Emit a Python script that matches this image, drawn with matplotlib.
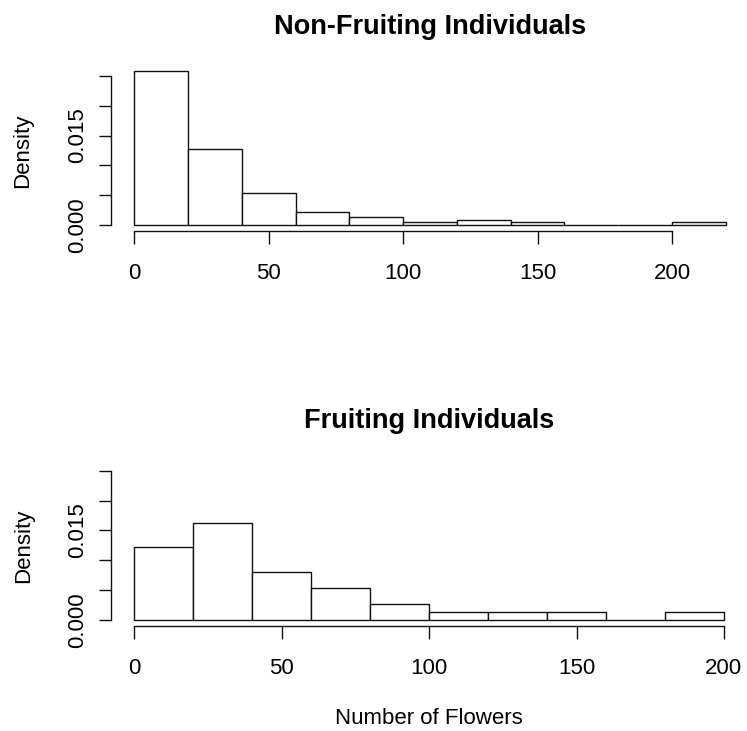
import matplotlib
matplotlib.use("Agg")
import matplotlib.pyplot as plt

plt.rcParams['font.family'] = ['Liberation Sans', 'DejaVu Sans']

# histogram bins (number of flowers) and densities
nonfruit_breaks = [0, 20, 40, 60, 80, 100, 120, 140, 160, 180, 200, 220]
nonfruit_density = [0.0258, 0.0127, 0.0053, 0.0022, 0.0013, 0.00044,
                    0.00088, 0.00044, 0.0, 0.0, 0.00044]

fruit_breaks = [0, 20, 40, 60, 80, 100, 120, 140, 160, 180, 200]
fruit_density = [0.0122, 0.0162, 0.0081, 0.0054, 0.0027, 0.00135,
                 0.00135, 0.00135, 0.0, 0.00135]

x_ticks = [0, 50, 100, 150, 200]
y_ticks = [0.0, 0.005, 0.010, 0.015, 0.020, 0.025]
y_labels = ["0.000", "", "", "0.015", "", ""]

W, H = 747, 731
fig = plt.figure(figsize=(W / 100, H / 100), dpi=100)

def hist_panel(rect, breaks, dens, title, xlabel=None):
    ax = fig.add_axes(rect)
    lefts = breaks[:-1]
    widths = [b - a for a, b in zip(breaks[:-1], breaks[1:])]
    ax.bar(lefts, dens, width=widths, align='edge', color='white',
           edgecolor='#111111', linewidth=1.0)
    span = breaks[-1] - breaks[0]
    ax.set_xlim(breaks[0] - 0.04 * span, breaks[-1] + 0.04 * span)
    ax.set_ylim(-0.001, 0.026)
    for s in ['top', 'right']:
        ax.spines[s].set_visible(False)
    ax.spines['left'].set_bounds(0, 0.025)
    ax.spines['bottom'].set_bounds(0, 200)
    for s in ['left', 'bottom']:
        ax.spines[s].set_linewidth(1.0)
        ax.spines[s].set_color('#111111')
    ax.set_xticks(x_ticks)
    ax.set_xticklabels([str(t) for t in x_ticks])
    ax.set_yticks(y_ticks)
    ax.set_yticklabels(y_labels, rotation=90, va='center')
    ax.tick_params(axis='both', length=9, width=1.0, color='#111111',
                   labelsize=16)
    ax.tick_params(axis='x', pad=14)
    ax.tick_params(axis='y', pad=7)
    ax.set_ylabel("Density", fontsize=16)
    ax.yaxis.set_label_coords(-0.121, 0.5)
    ax.text(0.5, 1.27, title, transform=ax.transAxes, ha='center',
            va='center', fontsize=19.5, fontweight='bold')
    if xlabel:
        ax.set_xlabel(xlabel, fontsize=16, va='center')
        ax.xaxis.set_label_coords(0.5, -0.575)
    return ax

hist_panel([110.6 / W, 1 - 231 / H, 638.8 / W, 161 / H],
           nonfruit_breaks, nonfruit_density, "Non-Fruiting Individuals")
hist_panel([110.7 / W, 1 - 626 / H, 636.8 / W, 161.3 / H],
           fruit_breaks, fruit_density, "Fruiting Individuals",
           xlabel="Number of Flowers")

fig.savefig("out.png", dpi=100)
